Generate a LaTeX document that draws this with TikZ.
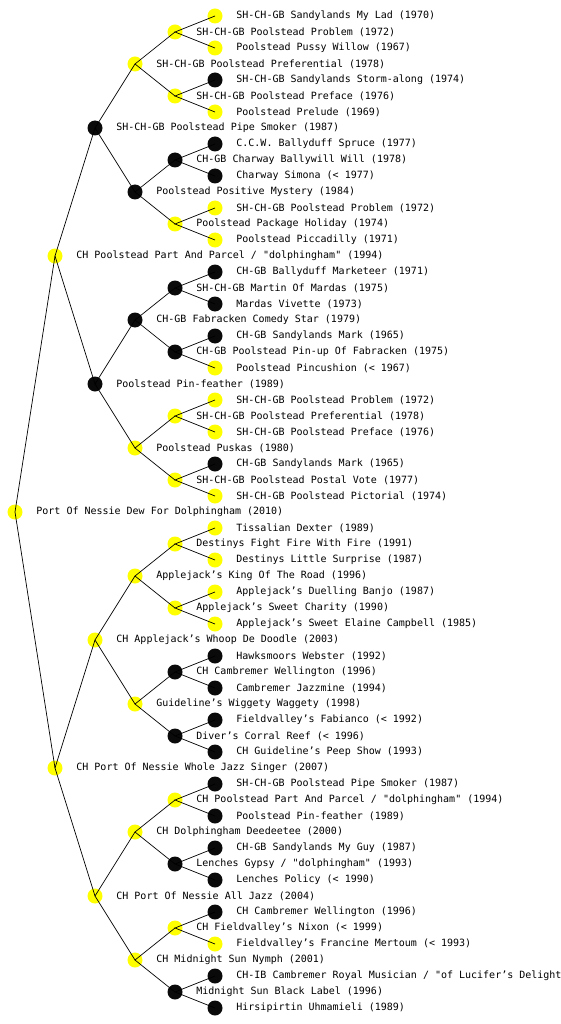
\documentclass[tikz,border=0pt]{standalone}
\usepackage{fontspec}
\setmonofont{DejaVu Sans Mono}
\usepackage{tikz}
\definecolor{dogyellow}{RGB}{255,255,0}
\definecolor{dogdark}{RGB}{10,10,10}
\tikzset{
  dog/.style={circle, inner sep=0pt, minimum size=15pt, draw=none},
  yel/.style={dog, fill=dogyellow},
  blk/.style={dog, fill=dogdark},
  lbl/.style={font=\ttfamily\fontsize{10}{12}\selectfont, inner sep=0pt,
    label distance=13.5pt},
  line/.style={line width=0.7pt, color=black}
}
\begin{document}
\begin{tikzpicture}[x=1pt, y=-1pt, every label/.style={lbl}]
  \fill[white] (0,0) rectangle (560,1024);
  \useasboundingbox (0,0) rectangle (560,1024);

  % root and parents
  \node[yel, label=right:{Port Of Nessie Dew For Dolphingham (2010)}] (p) at (15,512) {};
  \node[yel, label=right:{CH Poolstead Part And Parcel / "dolphingham" (1994)}] (p1) at (55,256) {};
  \node[yel, label=right:{CH Port Of Nessie Whole Jazz Singer (2007)}] (p2) at (55,768) {};

  % grandparents
  \node[blk, label=right:{SH-CH-GB Poolstead Pipe Smoker (1987)}] (p11) at (95,128) {};
  \node[blk, label=right:{Poolstead Pin-feather (1989)}] (p12) at (95,384) {};
  \node[yel, label=right:{CH Applejack’s Whoop De Doodle (2003)}] (p21) at (95,640) {};
  \node[yel, label=right:{CH Port Of Nessie All Jazz (2004)}] (p22) at (95,896) {};

  % third generation
  \node[yel, label=right:{SH-CH-GB Poolstead Preferential (1978)}] (p111) at (135,64) {};
  \node[blk, label=right:{Poolstead Positive Mystery (1984)}] (p112) at (135,192) {};
  \node[blk, label=right:{CH-GB Fabracken Comedy Star (1979)}] (p121) at (135,320) {};
  \node[yel, label=right:{Poolstead Puskas (1980)}] (p122) at (135,448) {};
  \node[yel, label=right:{Applejack’s King Of The Road (1996)}] (p211) at (135,576) {};
  \node[yel, label=right:{Guideline’s Wiggety Waggety (1998)}] (p212) at (135,704) {};
  \node[yel, label=right:{CH Dolphingham Deedeetee (2000)}] (p221) at (135,832) {};
  \node[yel, label=right:{CH Midnight Sun Nymph (2001)}] (p222) at (135,960) {};

  % fourth generation
  \node[yel, label=right:{SH-CH-GB Poolstead Problem (1972)}] (p1111) at (175,32) {};
  \node[yel, label=right:{SH-CH-GB Poolstead Preface (1976)}] (p1112) at (175,96) {};
  \node[blk, label=right:{CH-GB Charway Ballywill Will (1978)}] (p1121) at (175,160) {};
  \node[yel, label=right:{Poolstead Package Holiday (1974)}] (p1122) at (175,224) {};
  \node[blk, label=right:{SH-CH-GB Martin Of Mardas (1975)}] (p1211) at (175,288) {};
  \node[blk, label=right:{CH-GB Poolstead Pin-up Of Fabracken (1975)}] (p1212) at (175,352) {};
  \node[yel, label=right:{SH-CH-GB Poolstead Preferential (1978)}] (p1221) at (175,416) {};
  \node[yel, label=right:{SH-CH-GB Poolstead Postal Vote (1977)}] (p1222) at (175,480) {};
  \node[yel, label=right:{Destinys Fight Fire With Fire (1991)}] (p2111) at (175,544) {};
  \node[yel, label=right:{Applejack’s Sweet Charity (1990)}] (p2112) at (175,608) {};
  \node[blk, label=right:{CH Cambremer Wellington (1996)}] (p2121) at (175,672) {};
  \node[blk, label=right:{Diver’s Corral Reef (< 1996)}] (p2122) at (175,736) {};
  \node[yel, label=right:{CH Poolstead Part And Parcel / "dolphingham" (1994)}] (p2211) at (175,800) {};
  \node[blk, label=right:{Lenches Gypsy / "dolphingham" (1993)}] (p2212) at (175,864) {};
  \node[yel, label=right:{CH Fieldvalley’s Nixon (< 1999)}] (p2221) at (175,928) {};
  \node[blk, label=right:{Midnight Sun Black Label (1996)}] (p2222) at (175,992) {};

  % fifth generation
  \node[yel, label=right:{SH-CH-GB Sandylands My Lad (1970)}] (p11111) at (215,16) {};
  \node[yel, label=right:{Poolstead Pussy Willow (1967)}] (p11112) at (215,48) {};
  \node[blk, label=right:{SH-CH-GB Sandylands Storm-along (1974)}] (p11121) at (215,80) {};
  \node[yel, label=right:{Poolstead Prelude (1969)}] (p11122) at (215,112) {};
  \node[blk, label=right:{C.C.W. Ballyduff Spruce (1977)}] (p11211) at (215,144) {};
  \node[blk, label=right:{Charway Simona (< 1977)}] (p11212) at (215,176) {};
  \node[yel, label=right:{SH-CH-GB Poolstead Problem (1972)}] (p11221) at (215,208) {};
  \node[yel, label=right:{Poolstead Piccadilly (1971)}] (p11222) at (215,240) {};
  \node[blk, label=right:{CH-GB Ballyduff Marketeer (1971)}] (p12111) at (215,272) {};
  \node[blk, label=right:{Mardas Vivette (1973)}] (p12112) at (215,304) {};
  \node[blk, label=right:{CH-GB Sandylands Mark (1965)}] (p12121) at (215,336) {};
  \node[yel, label=right:{Poolstead Pincushion (< 1967)}] (p12122) at (215,368) {};
  \node[yel, label=right:{SH-CH-GB Poolstead Problem (1972)}] (p12211) at (215,400) {};
  \node[yel, label=right:{SH-CH-GB Poolstead Preface (1976)}] (p12212) at (215,432) {};
  \node[blk, label=right:{CH-GB Sandylands Mark (1965)}] (p12221) at (215,464) {};
  \node[yel, label=right:{SH-CH-GB Poolstead Pictorial (1974)}] (p12222) at (215,496) {};
  \node[yel, label=right:{Tissalian Dexter (1989)}] (p21111) at (215,528) {};
  \node[yel, label=right:{Destinys Little Surprise (1987)}] (p21112) at (215,560) {};
  \node[yel, label=right:{Applejack’s Duelling Banjo (1987)}] (p21121) at (215,592) {};
  \node[yel, label=right:{Applejack’s Sweet Elaine Campbell (1985)}] (p21122) at (215,624) {};
  \node[blk, label=right:{Hawksmoors Webster (1992)}] (p21211) at (215,656) {};
  \node[blk, label=right:{Cambremer Jazzmine (1994)}] (p21212) at (215,688) {};
  \node[blk, label=right:{Fieldvalley’s Fabianco (< 1992)}] (p21221) at (215,720) {};
  \node[blk, label=right:{CH Guideline’s Peep Show (1993)}] (p21222) at (215,752) {};
  \node[blk, label=right:{SH-CH-GB Poolstead Pipe Smoker (1987)}] (p22111) at (215,784) {};
  \node[blk, label=right:{Poolstead Pin-feather (1989)}] (p22112) at (215,816) {};
  \node[blk, label=right:{CH-GB Sandylands My Guy (1987)}] (p22121) at (215,848) {};
  \node[blk, label=right:{Lenches Policy (< 1990)}] (p22122) at (215,880) {};
  \node[blk, label=right:{CH Cambremer Wellington (1996)}] (p22211) at (215,912) {};
  \node[yel, label=right:{Fieldvalley’s Francine Mertoum (< 1993)}] (p22212) at (215,944) {};
  \node[blk, label=right:{CH-IB Cambremer Royal Musician / "of Lucifer’s Delight}] (p22221) at (215,976) {};
  \node[blk, label=right:{Hirsipirtin Uhmamieli (1989)}] (p22222) at (215,1008) {};

  % connectors, sire above and dam below
  \draw[line] (p1.center) -- (p.center) -- (p2.center);
  \draw[line] (p11.center) -- (p1.center) -- (p12.center);
  \draw[line] (p21.center) -- (p2.center) -- (p22.center);
  \draw[line] (p111.center) -- (p11.center) -- (p112.center);
  \draw[line] (p121.center) -- (p12.center) -- (p122.center);
  \draw[line] (p211.center) -- (p21.center) -- (p212.center);
  \draw[line] (p221.center) -- (p22.center) -- (p222.center);
  \draw[line] (p1111.center) -- (p111.center) -- (p1112.center);
  \draw[line] (p1121.center) -- (p112.center) -- (p1122.center);
  \draw[line] (p1211.center) -- (p121.center) -- (p1212.center);
  \draw[line] (p1221.center) -- (p122.center) -- (p1222.center);
  \draw[line] (p2111.center) -- (p211.center) -- (p2112.center);
  \draw[line] (p2121.center) -- (p212.center) -- (p2122.center);
  \draw[line] (p2211.center) -- (p221.center) -- (p2212.center);
  \draw[line] (p2221.center) -- (p222.center) -- (p2222.center);
  \draw[line] (p11111.center) -- (p1111.center) -- (p11112.center);
  \draw[line] (p11121.center) -- (p1112.center) -- (p11122.center);
  \draw[line] (p11211.center) -- (p1121.center) -- (p11212.center);
  \draw[line] (p11221.center) -- (p1122.center) -- (p11222.center);
  \draw[line] (p12111.center) -- (p1211.center) -- (p12112.center);
  \draw[line] (p12121.center) -- (p1212.center) -- (p12122.center);
  \draw[line] (p12211.center) -- (p1221.center) -- (p12212.center);
  \draw[line] (p12221.center) -- (p1222.center) -- (p12222.center);
  \draw[line] (p21111.center) -- (p2111.center) -- (p21112.center);
  \draw[line] (p21121.center) -- (p2112.center) -- (p21122.center);
  \draw[line] (p21211.center) -- (p2121.center) -- (p21212.center);
  \draw[line] (p21221.center) -- (p2122.center) -- (p21222.center);
  \draw[line] (p22111.center) -- (p2211.center) -- (p22112.center);
  \draw[line] (p22121.center) -- (p2212.center) -- (p22122.center);
  \draw[line] (p22211.center) -- (p2221.center) -- (p22212.center);
  \draw[line] (p22221.center) -- (p2222.center) -- (p22222.center);
\end{tikzpicture}
\end{document}
